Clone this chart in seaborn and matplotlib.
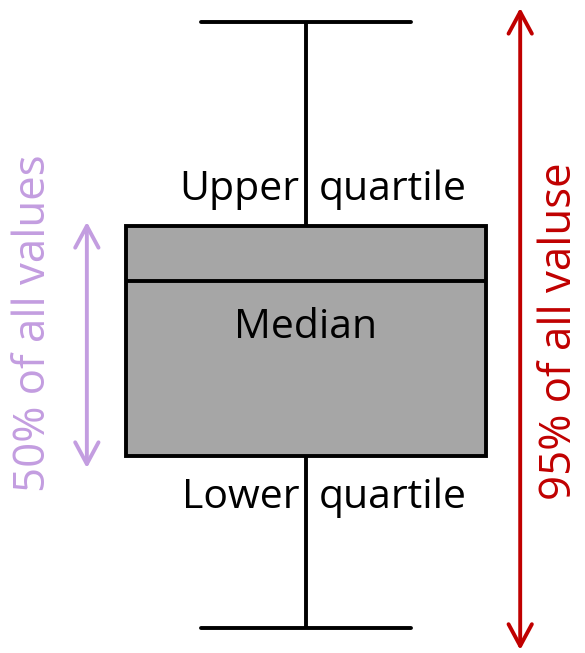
import numpy as np
import matplotlib
matplotlib.use("Agg")
import matplotlib.pyplot as plt
import seaborn as sns

# five-number summary (lower whisker, Q1, median, Q3, upper whisker)
summary_values = [0.0, 28.4, 57.3, 66.3, 100.0]
summary_names = ["min", "q1", "median", "q3", "max"]
box_label = "Median"
upper_label = ("Upper", "quartile")
lower_label = ("Lower", "quartile")
iqr_label = "50% of all values"
range_label = "95% of all valuse"

sns.set_theme(style="white")
plt.rcParams["font.family"] = ["Open Sans", "DejaVu Sans"]

fig = plt.figure(figsize=(5.85, 6.53), dpi=100)
ax = fig.add_axes([0, 0, 1, 1])

lw = 2.8
sns.boxplot(y=summary_values, whis=(0, 100), width=0.8, color="#a6a6a6",
            saturation=1, linewidth=lw, linecolor="black", ax=ax,
            capwidths=0.467)

ax.set_xlim(-0.68, 0.62)
ax.set_ylim(-4.1, 103.6)
ax.axis("off")

lo, q1, med, q3, hi = summary_values
fs = 29.5

ax.text(-0.015, q3 + 4.3, upper_label[0], ha="right", va="baseline", fontsize=fs, color="black")
ax.text(0.028, q3 + 4.3, upper_label[1], ha="left", va="baseline", fontsize=fs, color="black")
ax.text(-0.015, q1 - 8.6, lower_label[0], ha="right", va="baseline", fontsize=fs, color="black")
ax.text(0.028, q1 - 8.6, lower_label[1], ha="left", va="baseline", fontsize=fs, color="black")
ax.text(0.0, med - 9.4, box_label, ha="center", va="baseline", fontsize=fs, color="black")

purple = "#c39de0"
red = "#c00000"
arrow_kw = dict(arrowstyle="<->,head_length=1.3,head_width=0.7", lw=lw,
                shrinkA=0, shrinkB=0)

ax.annotate("", xy=(-0.487, q3 + 0.7), xytext=(-0.487, q1 - 2.0),
            arrowprops=dict(color=purple, **arrow_kw))
ax.annotate("", xy=(0.476, hi + 2.3), xytext=(0.476, lo - 3.6),
            arrowprops=dict(color=red, **arrow_kw))

ax.text(-0.606, 50.3, iqr_label, rotation=90, ha="center", va="center",
        fontsize=31.5, color=purple)
ax.text(0.563, 49.0, range_label, rotation=90, ha="center", va="center",
        fontsize=31.5, color=red)

fig.savefig("out.png", dpi=100)
